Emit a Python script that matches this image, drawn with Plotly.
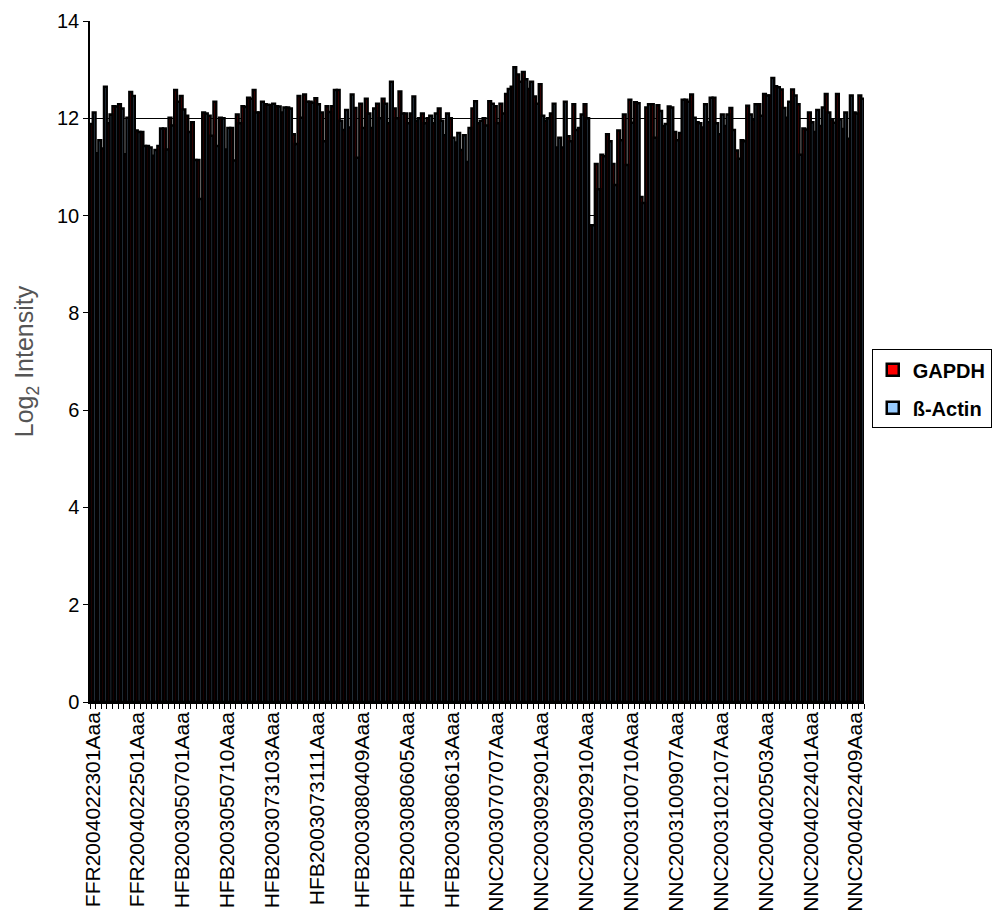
import plotly.graph_objects as go

# ---- data ----
tick_labels = [
    "FFR2004022301Aaa", "FFR2004022501Aaa", "HFB2003050701Aaa", "HFB2003050710Aaa",
    "HFB2003073103Aaa", "HFB2003073111Aaa", "HFB2003080409Aaa", "HFB2003080605Aaa",
    "HFB2003080613Aaa", "NNC2003070707Aaa", "NNC2003092901Aaa", "NNC2003092910Aaa",
    "NNC2003100710Aaa", "NNC2003100907Aaa", "NNC2003102107Aaa", "NNC2004020503Aaa",
    "NNC2004022401Aaa", "NNC2004022409Aaa",
]
label_step = 8

gapdh = [
    11.88, 11.28, 11.38, 11.90, 12.25, 12.29, 11.26, 12.54, 11.75, 11.72,
    11.43, 11.23, 11.43, 11.79, 12.01, 12.58, 12.46, 12.05, 11.92, 11.14,
    12.12, 12.05, 12.34, 12.01, 11.36, 11.80, 12.08, 12.25, 12.42, 12.58,
    12.12, 12.29, 12.27, 12.25, 12.12, 12.22, 11.67, 12.46, 12.49, 12.34,
    12.41, 12.12, 12.25, 12.25, 12.58, 11.76, 11.81, 12.21,
    12.30, 12.40, 11.80, 12.30, 12.40, 11.90, 12.20, 12.55, 12.10, 12.10,
    11.95, 12.10, 12.00, 11.90, 12.20, 11.65, 12.00, 11.50, 11.35, 11.10,
    12.20, 11.90, 12.00, 12.35, 12.25, 12.30, 12.50, 12.65, 12.90, 12.95,
    12.60, 12.45, 12.70, 11.95, 12.10, 11.40,
    11.40, 11.63, 12.29, 11.80, 12.29, 9.80, 11.06, 11.25, 11.67, 11.06,
    11.75, 12.08, 12.38, 12.33, 10.38, 12.22, 12.29, 12.27, 11.84, 12.24,
    11.72, 11.70, 12.38, 12.49, 11.92, 11.81, 11.92, 12.42, 11.67, 11.84,
    12.21, 11.34, 11.55, 12.26, 11.97, 12.29, 12.50, 12.47, 12.66, 12.59,
    12.01, 12.59, 12.29, 11.79, 12.12, 11.72, 11.84, 12.50, 11.98, 12.50,
    11.78, 11.58, 12.12, 12.47,
]

actin = [
    12.12, 11.55, 12.65, 12.08, 12.24, 12.20, 12.01, 12.46, 11.72, 11.43,
    11.40, 11.35, 11.79, 11.36, 11.85, 12.34, 12.18, 11.72, 11.14, 10.34,
    12.10, 11.64, 11.43, 12.00, 11.80, 11.13, 11.90, 12.23, 12.40, 12.12,
    12.34, 12.28, 12.30, 12.24, 12.22, 12.20, 11.47, 12.01, 12.34, 12.32,
    12.29, 11.53, 12.13, 12.58, 11.95, 12.17, 12.49, 11.19,
    11.80, 12.10, 12.20, 12.00, 12.30, 12.75, 12.00, 12.10, 11.90, 12.45,
    12.00, 11.90, 12.05, 12.10, 11.95, 12.10, 11.60, 11.70, 11.65, 11.80,
    12.35, 11.95, 11.85, 12.30, 11.90, 12.10, 12.60, 13.05, 12.75, 12.80,
    12.75, 12.30, 12.05, 12.00, 12.30, 11.60,
    12.34, 11.53, 11.76, 12.08, 12.00, 9.80, 10.54, 11.22, 11.53, 10.63,
    11.55, 11.04, 11.91, 12.31, 10.26, 12.29, 11.60, 12.15, 11.88, 12.22,
    11.55, 12.38, 12.34, 12.01, 11.90, 12.29, 12.42, 11.90, 12.08, 12.08,
    11.76, 11.17, 11.53, 12.08, 12.29, 12.05, 12.47, 12.83, 12.64, 12.21,
    12.34, 12.47, 11.25, 11.77, 11.92, 12.17, 12.22, 12.12, 11.91, 11.98,
    12.12, 12.47, 12.10, 12.40,
]

n = len(gapdh)
x = list(range(n))
tickvals = [i * label_step for i in range(len(tick_labels))]

fig = go.Figure()
fig.add_trace(go.Bar(
    x=x, y=gapdh, name="<b>GAPDH</b>",
    marker=dict(color="#FF0000", line=dict(color="black", width=2.5)),
    legendgroup="g1",
))
fig.add_trace(go.Bar(
    x=x, y=actin, name="<b>ß-Actin</b>",
    marker=dict(color="#99CCFF", line=dict(color="black", width=2.5)),
    legendgroup="g2",
))

fig.update_layout(
    width=992, height=917, autosize=False,
    paper_bgcolor="white", plot_bgcolor="white",
    margin=dict(l=90, r=128, t=21, b=215, autoexpand=False),
    barmode="group", bargap=0.04, bargroupgap=0,
    font=dict(family="Liberation Sans, Arial, sans-serif", color="black"),
    showlegend=True,
    legend=dict(
        x=1.010, y=0.518, xanchor="left", yanchor="top",
        bordercolor="black", borderwidth=1, bgcolor="white",
        font=dict(size=20, color="black"),
        tracegroupgap=9, itemwidth=30,
    ),
)

fig.update_yaxes(
    range=[0, 14], tick0=0, dtick=2,
    showgrid=True, gridcolor="black", gridwidth=1,
    showline=True, linecolor="black", linewidth=1.5,
    ticks="outside", ticklen=5, tickcolor="black",
    tickfont=dict(size=20, color="black"),
    zeroline=False,
    title=dict(text="Log<sub>2</sub> Intensity", font=dict(size=25, color="#555555"), standoff=16),
)

fig.update_xaxes(
    range=[-0.5, n - 0.5],
    tickmode="array", tickvals=tickvals, ticktext=tick_labels,
    tickangle=-90, ticks="", showgrid=False, zeroline=False,
    showline=True, linecolor="black", linewidth=1.5,
    tickfont=dict(size=21, color="black"),
    minor=dict(tickmode="linear", tick0=-0.5, dtick=1, ticks="outside",
               ticklen=5, tickcolor="black", showgrid=False),
)

fig.write_html("out.html", config={"displayModeBar": False},
               post_script="document.body.style.margin='0';")
